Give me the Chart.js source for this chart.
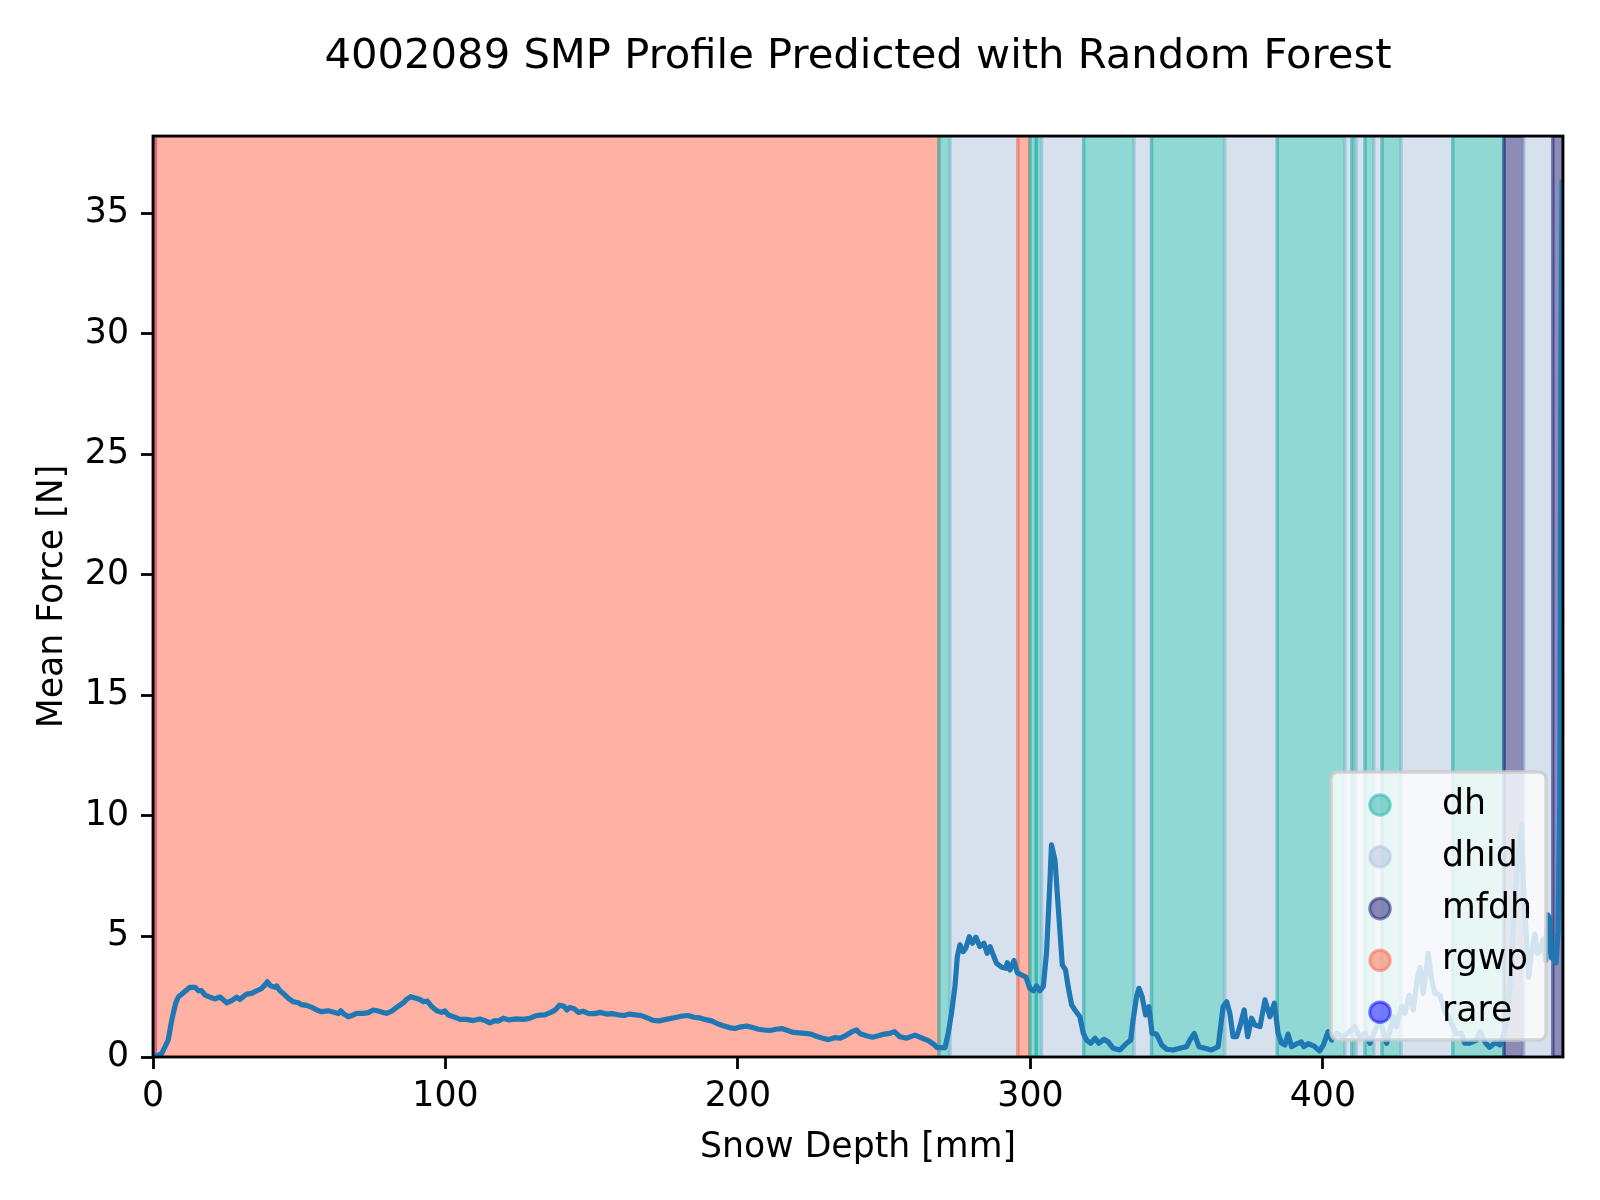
<!DOCTYPE html>
<html><head><meta charset="utf-8">
<script src="https://cdn.jsdelivr.net/npm/chart.js@4.4.1/dist/chart.umd.min.js"></script>
<style>html,body{margin:0;padding:0;background:#fff;} canvas{display:block;}</style>
</head><body>
<canvas id="c" width="1600" height="1200" style="width:1600px;height:1200px"></canvas>
<script>
const depth = [0,1.5,3.0,4.2,5.2,6.2,6.9,7.8,8.7,9.8,11.5,12.6,14.4,15.5,16.6,17.8,19.5,21.2,22.9,25.2,26.9,28.6,29.7,32.0,33.7,35.5,37.2,38.3,39.1,40.2,41.7,42.3,43.4,44.5,46.3,48.0,49.7,50.8,52.5,54.3,56.0,57.7,59.9,61.6,63.4,64.2,65.3,66.8,68.5,69.6,71.9,73.6,75.3,77.0,78.7,79.9,81.6,83.3,85.6,86.7,88.1,89.6,91.3,92.4,93.8,95.3,97.0,98.7,99.8,101.0,103.2,105.0,107.2,109.5,111.8,113.5,115.2,116.9,118.1,119.8,121.5,124.3,126.6,128.9,130.6,132.3,134,136,137.5,139,140.5,141.5,142.5,144,145.5,147,149,151,153,155,157,159,161,163,165,167,169,171,173,175,177,179,181,183,185,187,189,191,193,195,197,199,201,203,205,207,209,211,213,215,217,219,221,223,225,227,229,231,233,235,237,239,240.5,242,244,246,248,250,252,253.5,255.4,257.7,260.5,262.2,265.1,266.8,268.1,270.8,271.9,273.0,274.2,275.0,275.9,277.0,277.9,279.1,280.2,281.4,282.7,284.1,285.2,286.2,287.3,288.4,290.2,291.6,292.1,293.0,294.4,295.5,297.0,298.5,299.8,301.0,302.1,303.2,304.4,305.5,306.7,307.2,308.4,309.5,310.9,312.0,312.9,314.1,315.2,316.9,318.1,319.2,320.6,322.1,323.4,325.1,326.6,328.3,330.6,332.9,334.3,335.1,336.3,337.1,338.2,339.4,340.5,341.6,343.1,344.9,346.6,348.8,351.1,353.4,354.5,356.0,357.6,359.7,361.9,364.2,365.9,367.1,368.2,369.3,370.5,371.6,373.1,374.3,375.6,376.8,378.5,380.2,381.9,383.4,384.7,385.9,387.0,388.1,389.3,391.5,392.6,393.5,395.0,397.0,398.9,400.2,401.8,403.0,404.7,406.9,409.2,410.9,412.6,414.4,416.1,418.4,419.5,421.8,424.1,425.2,426.9,428.0,429.5,430.9,432.2,433.2,434.3,436.0,437.2,438.3,440.0,441.7,443.4,445.6,447.4,448.5,450.2,452.5,453.8,455.5,457.0,459.0,460.5,461.5,462.8,464.0,465.1,466.3,467.9,468.6,469.3,470.3,471.4,472.5,473.3,474.2,475.4,476.2,476.9,477.6,478.2,479.0,479.7,480.4,481.0,481.4,481.8];
const force = [0.05,0.05,0.15,0.45,0.7,1.4,1.8,2.25,2.5,2.6,2.78,2.89,2.89,2.75,2.75,2.57,2.48,2.41,2.49,2.25,2.34,2.48,2.39,2.61,2.64,2.75,2.85,2.99,3.12,2.95,2.89,2.95,2.75,2.64,2.43,2.29,2.25,2.17,2.14,2.06,1.95,1.88,1.92,1.87,1.80,1.92,1.78,1.67,1.74,1.81,1.81,1.84,1.95,1.91,1.85,1.81,1.90,2.06,2.25,2.39,2.50,2.45,2.39,2.29,2.32,2.09,1.92,1.85,1.91,1.74,1.65,1.56,1.56,1.51,1.58,1.51,1.42,1.51,1.49,1.61,1.54,1.58,1.56,1.61,1.70,1.74,1.75,1.85,1.95,2.15,2.1,1.95,2.05,2.0,1.85,1.9,1.8,1.8,1.85,1.78,1.8,1.75,1.72,1.78,1.75,1.72,1.62,1.52,1.5,1.55,1.6,1.65,1.7,1.72,1.65,1.62,1.55,1.5,1.38,1.3,1.22,1.18,1.25,1.28,1.22,1.15,1.12,1.1,1.15,1.18,1.1,1.02,1.0,0.98,0.95,0.85,0.78,0.72,0.8,0.78,0.9,1.05,1.12,0.95,0.88,0.82,0.88,0.95,0.98,1.05,0.84,0.78,0.91,0.82,0.68,0.54,0.39,0.39,0.98,1.81,2.92,4.16,4.65,4.37,4.51,4.99,4.72,4.97,4.58,4.72,4.30,4.58,4.23,3.89,3.72,3.68,3.91,3.61,4.00,3.50,3.40,3.31,2.85,2.75,2.95,2.75,2.92,4.30,7.34,8.80,8.17,6.24,3.82,3.61,2.92,2.16,1.95,1.67,0.98,0.70,0.57,0.78,0.57,0.73,0.63,0.36,0.29,0.57,0.70,1.53,2.50,2.85,2.50,1.74,2.09,0.98,0.95,0.50,0.32,0.29,0.36,0.43,0.70,0.98,0.43,0.36,0.29,0.43,2.09,2.29,1.81,0.84,0.84,1.26,1.95,0.84,1.61,1.33,1.26,2.37,1.67,2.23,0.98,0.57,0.50,0.95,0.43,0.57,0.63,0.43,0.55,0.45,0.25,0.5,1.05,0.7,0.98,0.84,1.05,1.26,0.84,0.98,0.57,1.26,1.53,0.57,1.67,1.26,2.09,1.81,2.57,1.95,3.20,3.72,2.64,4.30,3.20,2.64,2.57,1.88,1.53,0.98,0.98,0.57,0.57,0.70,1.05,0.6,0.4,0.6,0.5,0.8,1.4,3.0,5.5,7.6,9.6,7.0,5.5,3.3,4.4,5.1,4.3,4.4,4.9,4.0,5.9,5.7,4.1,4.4,3.9,5.2,10.5,29.0,36.4];

const xTicks = [0,100,200,300,400];
const yTicks = [0,5,10,15,20,25,30,35];
const xLimits = [0, 482.1];
const yLimits = [0, 38.2];

const bandClass = ['rare','rgwp','dh','dhid','rgwp','dh','dh','dhid','dh','dhid','dh','dhid','dh','dhid','dh','dhid','dh','dhid','dh','dhid','dh','mfdh','dhid','mfdh'];
const bandStart = [0,0.8,268.7,272.5,295.7,299.8,302.0,303.8,318.2,335.4,341.4,366.4,384.4,407.5,409.9,411.3,414.4,417.4,420.2,426.7,444.4,461.9,468.6,478.6];
const bandEnd   = [0.8,268.7,272.5,295.7,299.8,302.0,303.8,318.2,335.4,341.4,366.4,384.4,407.5,409.9,411.3,414.4,417.4,420.2,426.7,444.4,461.9,468.6,478.6,482.1];

const classNames = ['dh','dhid','mfdh','rgwp','rare'];
const classRGB = ['32,178,170','176,196,222','25,25,112','255,99,71','0,0,255'];

const titleText = '4002089 SMP Profile Predicted with Random Forest';
const xLabel = 'Snow Depth [mm]';
const yLabel = 'Mean Force [N]';

const FONT = 'DejaVu Sans';
const points = depth.map((d, i) => ({x: d, y: force[i]}));
const rgbOf = name => classRGB[classNames.indexOf(name)];

const bandsPlugin = {
  id: 'bands',
  beforeDatasetsDraw(chart) {
    const {ctx, chartArea: a, scales: {x}} = chart;
    ctx.save();
    ctx.beginPath();
    ctx.rect(a.left, a.top, a.right - a.left, a.bottom - a.top);
    ctx.clip();
    for (let i = 0; i < bandClass.length; i++) {
      const x0 = x.getPixelForValue(bandStart[i]);
      const x1 = x.getPixelForValue(bandEnd[i]);
      const c = rgbOf(bandClass[i]);
      ctx.fillStyle = 'rgba(' + c + ',0.5)';
      ctx.fillRect(x0, a.top, x1 - x0, a.bottom - a.top);
      ctx.strokeStyle = 'rgba(' + c + ',0.5)';
      ctx.lineWidth = 3.4;
      ctx.strokeRect(x0, a.top, x1 - x0, a.bottom - a.top);
    }
    ctx.restore();
  },
  afterDatasetsDraw(chart) {
    const {ctx, chartArea: a} = chart;
    ctx.save();
    ctx.strokeStyle = '#000';
    ctx.lineWidth = 2.8;
    ctx.strokeRect(a.left, a.top, a.right - a.left, a.bottom - a.top);
    ctx.restore();
  }
};

const legendPlugin = {
  id: 'innerLegend',
  afterDraw(chart) {
    const {ctx, chartArea: a} = chart;
    const fs = 34.7;
    const right = a.right - 17, bottom = a.bottom - 17;
    const w = 215, h = 268;
    const left = right - w, top = bottom - h;
    ctx.save();
    ctx.beginPath();
    if (ctx.roundRect) ctx.roundRect(left, top, w, h, 7); else ctx.rect(left, top, w, h);
    ctx.fillStyle = 'rgba(255,255,255,0.8)';
    ctx.fill();
    ctx.strokeStyle = 'rgba(204,204,204,0.8)';
    ctx.lineWidth = 3.4;
    ctx.stroke();
    ctx.font = fs + 'px "' + FONT + '"';
    ctx.textBaseline = 'middle';
    ctx.textAlign = 'left';
    for (let i = 0; i < classNames.length; i++) {
      const cy = top + 33 + i * 51.8;
      const cx = left + 49;
      const c = classRGB[i];
      ctx.beginPath();
      ctx.arc(cx, cy, 10.3, 0, Math.PI * 2);
      ctx.fillStyle = 'rgba(' + c + ',0.5)';
      ctx.fill();
      ctx.strokeStyle = 'rgba(' + c + ',0.5)';
      ctx.lineWidth = 3;
      ctx.stroke();
      ctx.fillStyle = '#000';
      ctx.fillText(classNames[i], left + 111, cy);
    }
    ctx.restore();
  }
};

const tickFont = {family: FONT, size: 34.7};

new Chart(document.getElementById('c'), {
  type: 'line',
  data: {
    datasets: [{
      data: points,
      borderColor: '#1f77b4',
      borderWidth: 5.2,
      pointRadius: 0,
      tension: 0,
      fill: false,
      clip: 0,
      borderJoinStyle: 'round',
      borderCapStyle: 'butt'
    }]
  },
  options: {
    responsive: false,
    devicePixelRatio: 1,
    animation: false,
    parsing: true,
    layout: {padding: {left: 0, right: 37, top: 0, bottom: 0}},
    plugins: {
      legend: {display: false},
      tooltip: {enabled: false},
      title: {
        display: true,
        text: titleText,
        color: '#000',
        fullSize: false,
        font: {family: FONT, size: 41.7, weight: 'normal', lineHeight: 1.2},
        padding: {top: 32, bottom: 54}
      }
    },
    scales: {
      x: {
        type: 'linear',
        min: xLimits[0],
        max: xLimits[1],
        afterBuildTicks: s => { s.ticks = xTicks.map(v => ({value: v})); },
        afterFit: s => { s.height = 143; },
        ticks: {font: tickFont, color: '#000', padding: 7, maxRotation: 0, autoSkip: false,
                callback: v => String(v)},
        grid: {display: true, drawOnChartArea: false, drawTicks: true, tickLength: 12, tickWidth: 2.8, tickColor: '#000'},
        border: {display: false},
        title: {display: true, text: xLabel, color: '#000', font: {family: FONT, size: 34.7, lineHeight: 1.2}, padding: {top: 0, bottom: 31}}
      },
      y: {
        type: 'linear',
        min: yLimits[0],
        max: yLimits[1],
        afterBuildTicks: s => { s.ticks = yTicks.map(v => ({value: v})); },
        afterFit: s => { s.width = 153; },
        ticks: {font: tickFont, color: '#000', padding: 12, autoSkip: false, callback: v => String(v)},
        grid: {display: true, drawOnChartArea: false, drawTicks: true, tickLength: 12, tickWidth: 2.8, tickColor: '#000'},
        border: {display: false},
        title: {display: true, text: yLabel, color: '#000', font: {family: FONT, size: 34.7, lineHeight: 1.2}, padding: {top: 32, bottom: 0}}
      }
    }
  },
  plugins: [bandsPlugin, legendPlugin]
});
</script>
</body></html>
